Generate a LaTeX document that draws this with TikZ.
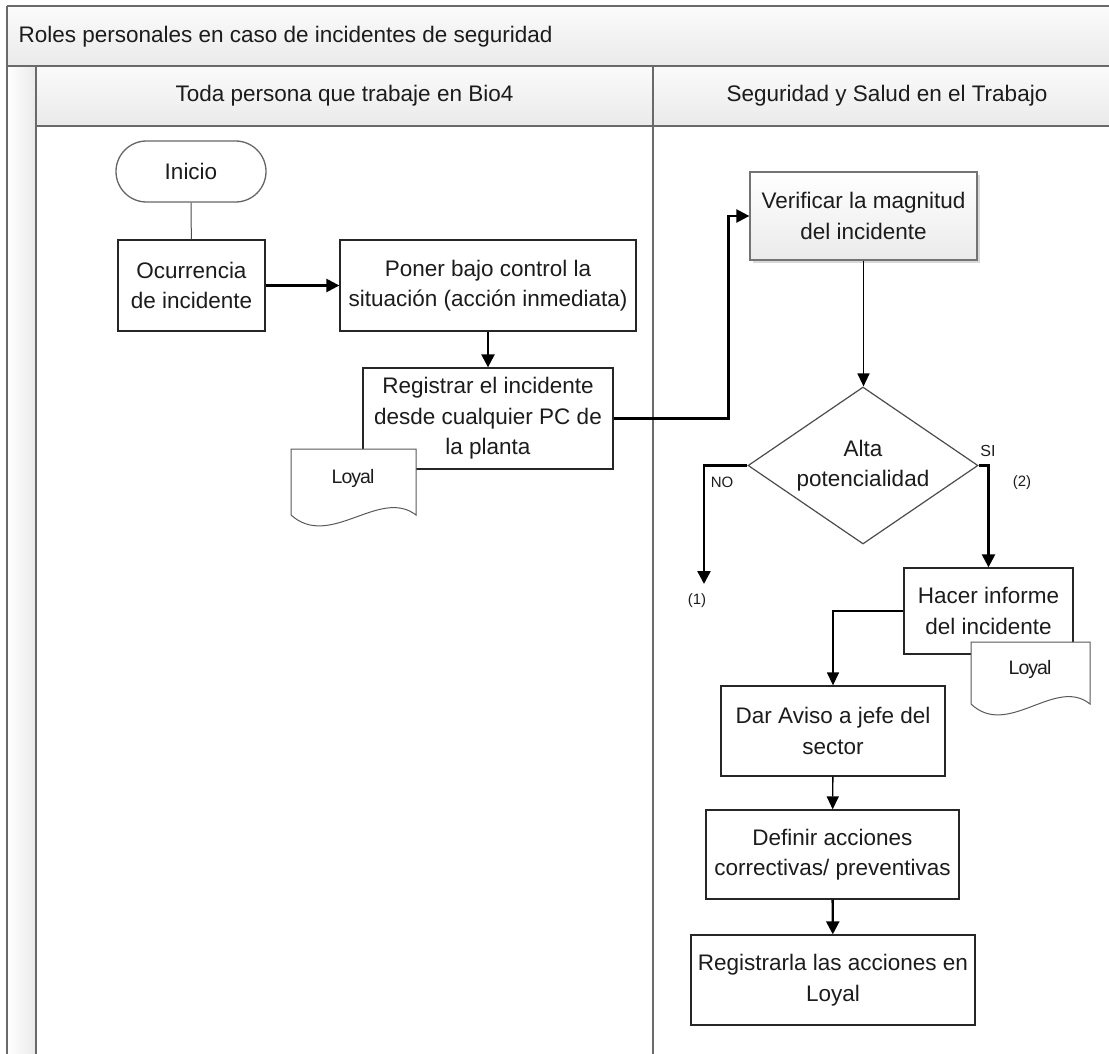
\documentclass[tikz,border=0pt]{standalone}
\usepackage{fontspec}
\setmainfont{Liberation Sans}
\usetikzlibrary{arrows.meta,shapes.geometric,shadows,calc}

\definecolor{inkc}{HTML}{1C1C1C}
\definecolor{framec}{HTML}{6A6A6A}
\definecolor{bandtop}{HTML}{FBFBFB}
\definecolor{bandbot}{HTML}{EAEAEA}

% document symbol with a wavy bottom edge: x, y (top-left), width, height at the ends
\newcommand\loyaldoc[4]{%
  \filldraw[docline] (#1,#2) -- (#1+#3,#2) -- (#1+#3,#2+#4)
    .. controls (#1+0.71*#3,#2+#4-28) and (#1+0.31*#3,#2+#4+35) .. (#1,#2+#4) -- cycle;}

\begin{document}
\begin{tikzpicture}[x=1pt,y=-1pt,
  txt/.style={font=\fontsize{22.5}{30.5}\selectfont, text=inkc, align=center},
  box/.style={txt, draw=black!85, line width=1.3pt, fill=white, inner sep=0pt},
  doctext/.style={font=\fontsize{19.5}{22}\selectfont\addfontfeatures{LetterSpace=-5}, text=inkc, inner sep=0pt},
  small/.style={font=\fontsize{15}{17}\selectfont, text=inkc, inner sep=0pt},
  docline/.style={draw=black!65, line width=1pt, fill=white},
  plainline/.style={draw=black!70, line width=1pt},
  thinarrow/.style={draw=black, line width=1.4pt, -{Triangle[length=13pt,width=12pt]}},
  thickarrow/.style={draw=black, line width=2.4pt, -{Triangle[length=13pt,width=13pt]}},
  lane/.style={draw=framec, line width=1.3pt},
]
\useasboundingbox (0,0) rectangle (1109,1054);
\clip (0,0) rectangle (1109,1054);

% pool and lane headers
\shade[top color=bandtop, bottom color=bandbot] (7,6) rectangle (1121,66);
\shade[top color=bandtop, bottom color=bandbot] (36,66) rectangle (1121,126);
\shade[left color=white, right color=bandbot] (7,66) rectangle (36,1060);
\draw[lane] (7,6) -- (1121,6);
\draw[lane] (7,6) -- (7,1060);
\draw[lane] (7,66) -- (1121,66);
\draw[lane] (36,66) -- (36,1060);
\draw[lane] (36,126) -- (1121,126);
\draw[lane] (653,66) -- (653,1060);

\node[txt, anchor=west] (title) at (15,37) {Roles personales en caso de incidentes de seguridad};
\node[txt] (laneA) at (344.5,96) {Toda persona que trabaje en Bio4};
\node[txt] (laneB) at (887,96) {Seguridad y Salud en el Trabajo};

% first lane
\node[box, draw=black!60, minimum width=150, minimum height=61, rounded corners=30.5] (inicio) at (191,171.5) {Inicio};
\node[box, minimum width=147, minimum height=91] (ocurr) at (191.5,285.5) {Ocurrencia\\de incidente};
\node[box, minimum width=296, minimum height=91] (poner) at (488,285.5) {Poner bajo control la\\situación (acción inmediata)};
\node[box, minimum width=250, minimum height=101] (regis) at (488,418.5) {Registrar el incidente\\desde cualquier PC de\\la planta};
\loyaldoc{291}{449}{125}{66}
\node[doctext] (loyA) at (353,478) {Loyal};

% second lane
\node[box, draw=black!55, top color=white, bottom color=black!8,
      drop shadow={shadow xshift=3pt, shadow yshift=-3pt, fill=black!30, opacity=0.5},
      minimum width=227, minimum height=88] (verif) at (863.5,216) {Verificar la magnitud\\del incidente};
\node[txt, diamond, aspect=1.46, draw=black!70, line width=1.2pt, fill=white, inner sep=0pt,
      minimum width=230, minimum height=157] (alta) at (863,465.5) {Alta\\potencialidad};
\node[box, minimum width=169, minimum height=86] (hacer) at (988.5,611) {Hacer informe\\del incidente};
\loyaldoc{971}{642}{119}{62}
\node[doctext] (loyB) at (1030,669) {Loyal};
\node[box, minimum width=224, minimum height=90] (dar) at (833,731) {Dar Aviso a jefe del\\sector};
\node[box, minimum width=253, minimum height=89] (definir) at (832.5,854.5) {Definir acciones\\correctivas/ preventivas};
\node[box, minimum width=284, minimum height=90] (regacc) at (833,980) {Registrarla las acciones en\\Loyal};

% branch labels
\node[small] (lblno) at (722,482) {NO};
\node[small] (lblone) at (697,601) {(1)};
\node[small, font=\fontsize{16}{18}\selectfont] (lblsi) at (988,451) {SI};
\node[small] (lbltwo) at (1022,483) {(2)};
\coordinate (noend) at (704,584);

% connectors
\draw[plainline] (inicio) -- (ocurr);
\draw[thickarrow] (ocurr) -- (poner);
\draw[thickarrow] (poner) -- (regis);
\draw[thickarrow] (regis.east) -- ++(115,0) |- (verif.west);
\draw[thinarrow] (verif.south) -- (verif.south |- alta.north);
\draw[thickarrow] (alta.west) -| (noend);
\draw[thickarrow] (alta.east) -| (hacer.north);
\draw[thinarrow] (hacer.west) -| (dar.north);
\draw[thinarrow] (dar) -- (definir);
\draw[thickarrow] (definir) -- (regacc);
\end{tikzpicture}
\end{document}
